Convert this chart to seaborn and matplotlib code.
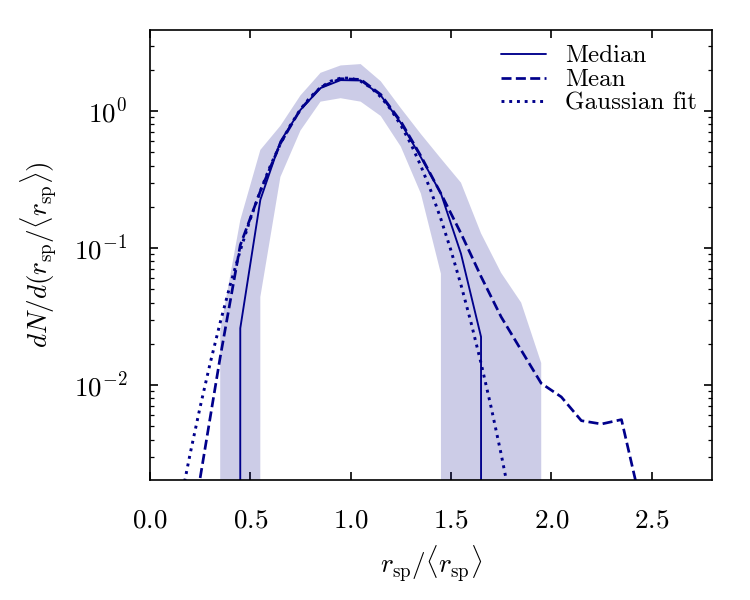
import numpy as np
import pandas as pd
import matplotlib
matplotlib.use("Agg")
import matplotlib.pyplot as plt
import seaborn as sns

# binned distribution of r_sp / <r_sp> (bin centres)
bins = [0.25, 0.35, 0.45, 0.55, 0.65, 0.75, 0.85, 0.95, 1.05, 1.15, 1.25, 1.35,
        1.45, 1.55, 1.65, 1.75, 1.85, 1.95, 2.05, 2.15, 2.25, 2.35, 2.45]

median = [0, 0, 0.026, 0.225, 0.60, 1.02, 1.47, 1.68, 1.67, 1.30, 0.82, 0.46,
          0.25, 0.091, 0.0225, 0, 0, 0, 0, 0, 0, 0, 0]
mean = [0.0021, 0.016, 0.105, 0.26, 0.58, 1.03, 1.49, 1.72, 1.70, 1.32, 0.84, 0.47,
        0.25, 0.128, 0.062, 0.0315, 0.018, 0.0103, 0.0082, 0.0055, 0.0052, 0.0056, 0.0013]
band_hi = [0, 0.025, 0.16, 0.52, 0.78, 1.30, 1.90, 2.15, 2.20, 1.65, 1.05, 0.68,
           0.45, 0.30, 0.128, 0.066, 0.040, 0.0145, 0, 0, 0, 0, 0]
band_lo = [0, 0, 0, 0.044, 0.33, 0.72, 1.17, 1.24, 1.17, 0.92, 0.55, 0.25,
           0.065, 0, 0, 0, 0, 0, 0, 0, 0, 0, 0]

# gaussian fit curve
fit_x = [0.15, 0.20, 0.25, 0.30, 0.35, 0.40, 0.45, 0.50, 0.55, 0.60, 0.65, 0.70,
         0.75, 0.80, 0.85, 0.90, 0.95, 1.00, 1.05, 1.10, 1.15, 1.20, 1.25, 1.30,
         1.35, 1.40, 1.45, 1.50, 1.55, 1.60, 1.65, 1.70, 1.75, 1.80, 1.85]
fit_y = [0.00135, 0.00315, 0.00693, 0.01446, 0.02865, 0.0539, 0.0962, 0.1628,
         0.2615, 0.398, 0.576, 0.789, 1.027, 1.268, 1.485, 1.649, 1.738, 1.738,
         1.649, 1.485, 1.268, 1.027, 0.789, 0.576, 0.398, 0.2615, 0.1628, 0.0962,
         0.0539, 0.02865, 0.01446, 0.00693, 0.00315, 0.00135, 0.00052]

df = pd.DataFrame({"x": bins, "median": median, "mean": mean,
                   "hi": band_hi, "lo": band_lo})
fit = pd.DataFrame({"x": fit_x, "y": fit_y})

sns.set_style("ticks")
plt.rcParams["font.family"] = "serif"
plt.rcParams["font.serif"] = ["cmr10", "DejaVu Serif"]
plt.rcParams["mathtext.fontset"] = "cm"
plt.rcParams["axes.formatter.use_mathtext"] = True
plt.rcParams["axes.unicode_minus"] = False
plt.rcParams["axes.edgecolor"] = "black"
plt.rcParams["xtick.color"] = "black"
plt.rcParams["ytick.color"] = "black"
plt.rcParams["text.color"] = "black"
plt.rcParams["axes.labelcolor"] = "black"

col = "darkblue"

fig, ax = plt.subplots(figsize=(5, 4), dpi=150)
fig.subplots_adjust(left=0.2, right=0.949, bottom=0.2, top=0.95)

ax.fill_between(df["x"], df["lo"], df["hi"], color=col, alpha=0.2, linewidth=0)
sns.lineplot(data=df, x="x", y="median", ax=ax, color=col, lw=0.9, label="Median")
sns.lineplot(data=df, x="x", y="mean", ax=ax, color=col, lw=1.3, ls="--", label="Mean")
sns.lineplot(data=fit, x="x", y="y", ax=ax, color=col, lw=1.4, ls=":", label="Gaussian fit")

ax.set_yscale("log")
ax.set_xlim(0, 2.8)
ax.set_ylim(2.03e-3, 3.9)
ax.set_xticks([0.0, 0.5, 1.0, 1.5, 2.0, 2.5])

ax.set_xlabel(r"$r_{\rm sp}/\langle r_{\rm sp}\rangle$", fontsize=13, labelpad=5)
ax.set_ylabel(r"$dN/d(r_{\rm sp}/\langle r_{\rm sp}\rangle)$", fontsize=13, labelpad=7)

ax.tick_params(which="both", direction="in", top=True, right=True, labelsize=13)
ax.tick_params(axis="x", which="major", length=4, width=0.8, pad=14)
ax.tick_params(axis="y", which="major", length=4, width=0.8, pad=11)
ax.tick_params(which="minor", length=2, width=0.6)
for s in ax.spines.values():
    s.set_linewidth(0.8)

ax.legend(loc="upper right", frameon=False, fontsize=12, handlelength=1.8,
          handletextpad=0.75, borderaxespad=0.2, labelspacing=0.05)

fig.savefig("out.png", dpi=150)
